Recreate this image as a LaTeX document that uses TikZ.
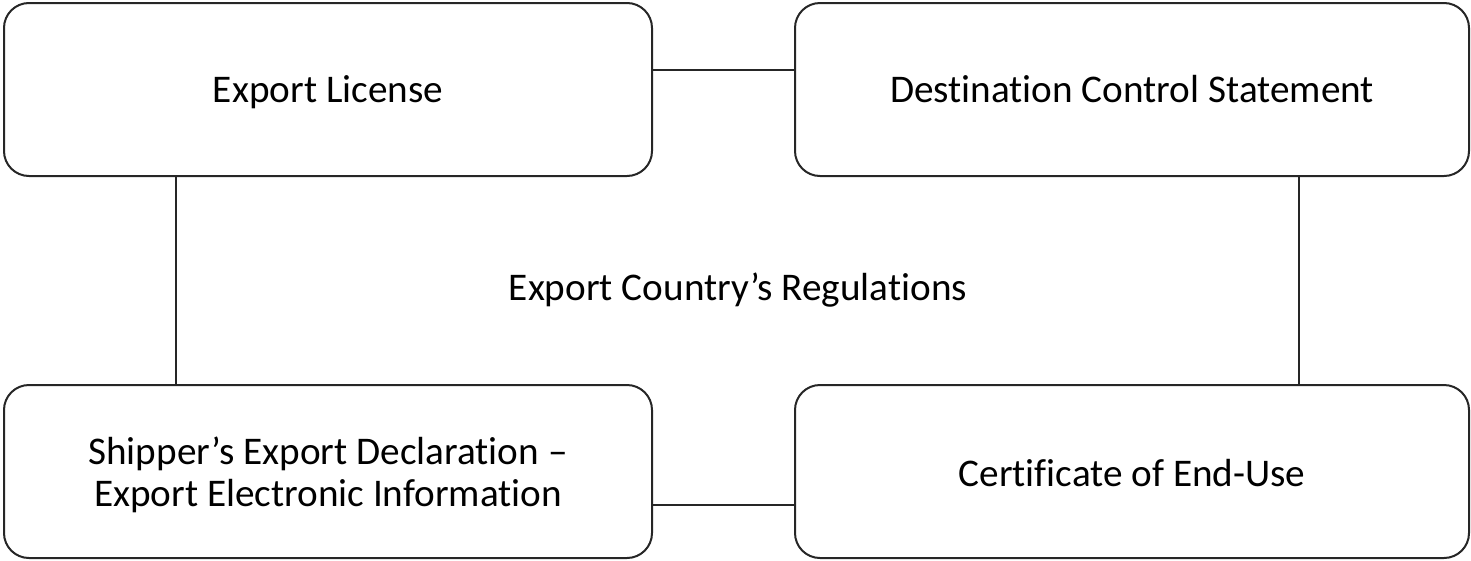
\documentclass[tikz,border=0pt]{standalone}
\usepackage{fontspec}
\setmainfont{Carlito}[Ligatures=CommonOff]
\begin{document}
\begin{tikzpicture}[x=1pt,y=-1pt,
  txt/.style={font=\fontsize{39.2}{42}\selectfont},
  box/.style={txt, draw=black!85, line width=2pt, rounded corners=25pt,
    minimum width=648pt, minimum height=173pt, inner sep=0pt, align=center},
  wide/.style={minimum width=674pt},
  oneline/.style={text height=25pt, text depth=0pt},
  conn/.style={draw=black!85, line width=2pt}]
\useasboundingbox (0,0) rectangle (1471,560);
\node[box, oneline] (tl) at (328,89.5) {Export License};
\node[box, wide, oneline] (tr) at (1132,89.5) {Destination Control Statement};
\node[box] (bl) at (328,471.5) {\rule{0pt}{37pt}Shipper’s Export Declaration –\\Export Electronic Information\rule[-10pt]{0pt}{10pt}};
\node[box, wide, text height=30pt, text depth=0pt] (br) at (1132,471.5) {Certificate of End-Use};
\node[txt, anchor=base] (mid) at (738,300) {Export Country’s Regulations};
\draw[conn] ([yshift=19.5pt]tl.east) -- ([yshift=19.5pt]tl.east -| tr.west);
\draw[conn] ([xshift=-152pt]tl.south) -- ([xshift=-152pt]tl.south |- bl.north);
\draw[conn] ([xshift=167pt]tr.south) -- ([xshift=167pt]tr.south |- br.north);
\draw[conn] ([yshift=-33.5pt]bl.east) -- ([yshift=-33.5pt]bl.east -| br.west);
\end{tikzpicture}
\end{document}
